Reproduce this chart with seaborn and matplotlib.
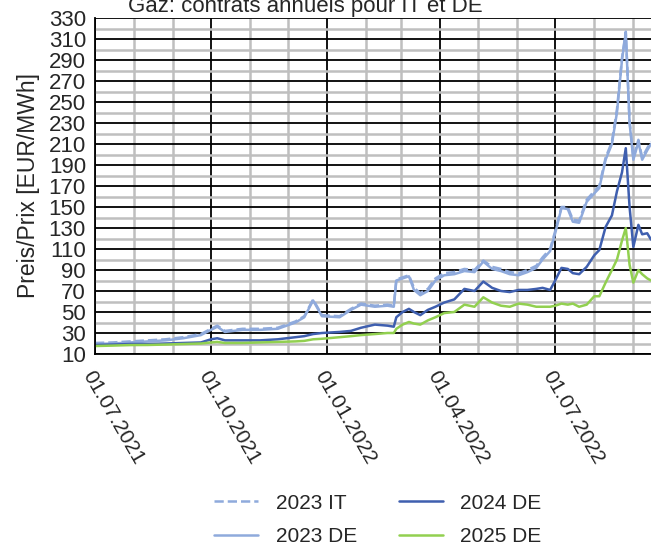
import pandas as pd
import numpy as np
import matplotlib.pyplot as plt
import matplotlib.dates as mdates
from matplotlib.lines import Line2D
import seaborn as sns

# Werte (EUR/MWh)
dates = ["2021-07-01", "2021-07-15", "2021-07-29", "2021-08-12", "2021-08-26", "2021-09-09",
         "2021-09-23", "2021-10-01", "2021-10-06", "2021-10-12", "2021-10-26", "2021-11-09",
         "2021-11-23", "2021-12-07", "2021-12-14", "2021-12-21", "2021-12-28", "2022-01-11",
         "2022-01-20", "2022-01-28", "2022-02-08", "2022-02-18", "2022-02-23", "2022-02-25",
         "2022-03-02", "2022-03-07", "2022-03-11", "2022-03-16", "2022-03-22", "2022-03-28",
         "2022-04-04", "2022-04-12", "2022-04-20", "2022-04-28", "2022-05-05", "2022-05-12",
         "2022-05-19", "2022-05-26", "2022-06-02", "2022-06-09", "2022-06-16", "2022-06-21",
         "2022-06-27", "2022-07-01", "2022-07-06", "2022-07-11", "2022-07-15", "2022-07-20",
         "2022-07-26", "2022-08-01", "2022-08-05", "2022-08-10", "2022-08-15", "2022-08-19",
         "2022-08-23", "2022-08-26", "2022-08-29", "2022-09-01", "2022-09-05", "2022-09-08",
         "2022-09-12", "2022-09-15"]

it_2023 = [20.5, 21, 22, 23, 24, 26, 29, 34, 37, 32, 34, 34,
           35, 41, 46, 62, 47, 46, 53, 58, 56, 57, 56, 81,
           83, 85, 73, 68, 72, 82, 87, 88, 91, 90, 99, 93,
           91, 88, 87, 90, 94, 102, 110, 127, 150, 150, 138, 137,
           157, 165, 170, 197, 212, 243, 292, 317, 232, 197, 214, 197,
           206, 212]

de_2023 = [19.5, 20, 21, 22, 23, 25, 28, 33, 36, 31, 33, 33,
           34, 40, 45, 61, 46, 45, 52, 57, 55, 56, 55, 80,
           82, 84, 71, 66, 70, 80, 85, 86, 89, 88, 98, 91,
           89, 86, 85, 88, 92, 100, 108, 125, 149, 148, 136, 135,
           155, 163, 168, 195, 210, 240, 290, 316, 230, 195, 212, 195,
           204, 210]

de_2024 = [18.6, 19, 19.5, 19.5, 20, 20.5, 21, 24, 25, 23, 23, 23,
           24, 26, 27, 29, 30, 31, 32, 35, 38, 37, 36, 45,
           50, 53, 50, 47, 52, 55, 59, 62, 72, 70, 79, 73,
           70, 69, 71, 71, 72, 73, 71, 80, 92, 91, 87, 86,
           93, 104, 109, 131, 142, 165, 183, 206, 150, 112, 133, 124,
           125, 119]

de_2025 = [17.6, 18, 18.5, 18.6, 19, 19.5, 20, 21, 21.5, 20.5, 20.5, 21,
           21.5, 22, 22.5, 24, 24.5, 26, 27, 28, 29, 30, 30, 34,
           38, 40.5, 39, 38, 42, 45, 49, 50, 57, 55, 64, 59,
           56, 55, 58, 57, 55, 55, 55, 56, 58, 57, 58, 55,
           57, 65, 65, 78, 90, 100, 118, 130, 95, 78, 90, 86,
           82, 80]

series_names = ["2023 IT", "2023 DE", "2024 DE", "2025 DE"]
colors = {"2023 IT": "#8FAADC", "2023 DE": "#8FAADC", "2024 DE": "#3F5FAF", "2025 DE": "#92D050"}

sns.set_style("white")
plt.rcParams['font.family'] = ['Liberation Sans', 'DejaVu Sans']

df = pd.DataFrame({"date": pd.to_datetime(dates), "2023 IT": it_2023, "2023 DE": de_2023,
                   "2024 DE": de_2024, "2025 DE": de_2025})
long_df = df.melt(id_vars="date", var_name="serie", value_name="prix")

fig = plt.figure(figsize=(6.51, 5.47), dpi=100)
ax = fig.add_axes([95 / 651, 1 - 354 / 547, 1 - 95 / 651, 336 / 547])

for name in ["2023 DE", "2023 IT", "2024 DE", "2025 DE"]:
    sub = long_df[long_df["serie"] == name]
    sns.lineplot(data=sub, x="date", y="prix", ax=ax, color=colors[name], lw=1.8,
                 linestyle="--" if name == "2023 IT" else "-", legend=False)

ax.set_xlim(pd.Timestamp("2021-07-01"), pd.Timestamp("2022-09-15"))
ax.set_ylim(10, 330)
ax.set_yticks(range(10, 331, 20))
ax.set_yticks(range(20, 331, 20), minor=True)
ax.xaxis.set_major_locator(mdates.MonthLocator(bymonth=[1, 4, 7, 10]))
ax.xaxis.set_minor_locator(mdates.MonthLocator())
ax.xaxis.set_major_formatter(mdates.DateFormatter("%d.%m.%Y"))

ax.set_axisbelow(True)
ax.grid(which="major", color="black", lw=1.3)
ax.grid(which="minor", color="#BFBFBF", lw=1.8)
for side in ["top", "right"]:
    ax.spines[side].set_visible(False)
for side in ["left", "bottom"]:
    ax.spines[side].set_color("black")
    ax.spines[side].set_linewidth(1.3)

ax.tick_params(axis="y", which="major", direction="inout", length=11, width=1.2, color="black",
               labelsize=16, pad=1)
ax.tick_params(axis="y", which="minor", direction="inout", length=6, width=1, color="black")
ax.tick_params(axis="x", which="major", direction="inout", length=14, width=1.3, color="black",
               labelsize=15, pad=3)
ax.tick_params(axis="x", which="minor", direction="inout", length=9, width=1, color="#888888")
for lbl in ax.get_xticklabels():
    lbl.set_rotation(-60)
    lbl.set_ha("left")
    lbl.set_va("top")
    lbl.set_rotation_mode("anchor")

ax.set_xlabel("")
ax.set_ylabel("Preis/Prix [EUR/MWh]", fontsize=16.5, labelpad=6)

fig.text(305 / 651, 1 - 12 / 547, "Gaz: contrats annuels pour IT et DE", fontsize=16,
         ha="center", va="baseline")

handles = [Line2D([], [], color=colors[n], lw=1.8, linestyle="--" if n == "2023 IT" else "-")
           for n in series_names]
fig.legend(handles, series_names, ncol=2, frameon=False, loc="upper center",
           bbox_to_anchor=(378 / 651, 1 - 475 / 547), fontsize=15, handlelength=2.1,
           columnspacing=2.0, labelspacing=0.7, handletextpad=0.85)

fig.savefig("out.png", dpi=100)
